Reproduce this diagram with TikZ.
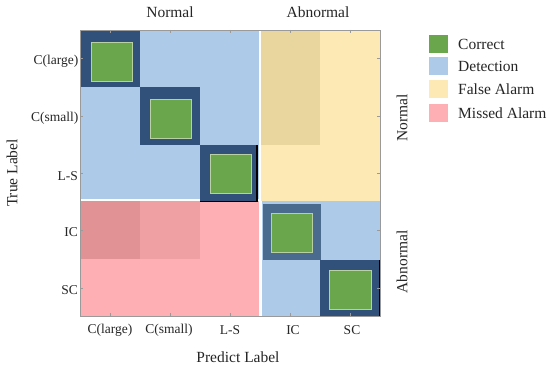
\documentclass[tikz,border=0pt]{standalone}
\usepackage{fontspec}
\setmainfont{Liberation Serif}
\definecolor{cblue}{HTML}{ADCBE9}
\definecolor{cyel}{HTML}{FDE9B3}
\definecolor{cyeld}{HTML}{E9D69E}
\definecolor{cpink}{HTML}{FDAFB3}
\definecolor{cpinkd}{HTML}{E09294}
\definecolor{cpinkm}{HTML}{EEA0A2}
\definecolor{cnavy}{HTML}{31517A}
\definecolor{cnavyl}{HTML}{4B6B8E}
\definecolor{cgreen}{HTML}{6AA74C}
\definecolor{cgedge}{HTML}{B8D0A2}
\definecolor{cframe}{HTML}{9A9A9A}
\begin{document}
\begin{tikzpicture}[x=1pt,y=-1pt,
  ticklab/.style={font=\fontsize{13.5}{15}\selectfont, text=black!85, inner sep=1pt},
  titlelab/.style={font=\fontsize{15.5}{17}\selectfont, text=black!85, inner sep=1pt},
  legtext/.style={font=\fontsize{15.5}{17}\selectfont, text=black!85, anchor=west, inner sep=0pt},
  legbox/.style={minimum width=19pt, minimum height=18pt, inner sep=0pt, draw=none},
  greensq/.style={fill=cgreen, draw=cgedge, line width=0.9pt},
  tickmark/.style={draw=cframe, line width=0.6pt}]
\useasboundingbox (0,0) rectangle (550,369);
\fill[white] (0,0) rectangle (550,369);
% blocks
\fill[cblue] (80,30) rectangle (260,201);
\fill[cblue] (260,201) rectangle (380,316);
\fill[cyel] (260,30) rectangle (380,201);
\fill[cyeld] (260,30) rectangle (320,145);
\fill[cpink] (80,201) rectangle (261,316);
\fill[cpinkd] (80,201) rectangle (140,259);
\fill[cpinkm] (140,201) rectangle (200,259);
% separators
\draw[white, line width=2pt] (259.5,30) -- (259.5,316);
\draw[white, line width=1.8pt] (80,200) -- (260,200);
\draw[white, line width=1.6pt] (261,201) -- (261,316);
% diagonal cells
\fill[cnavy] (80,30) rectangle (140,87);
\fill[cnavy] (140,87) rectangle (200,145);
\fill[cnavy] (200,145) rectangle (258,201);
\draw[black, line width=1.4pt] (257,145) -- (257,201.5) -- (200,201.5);
\fill[cnavyl] (263,204) rectangle (321,260);
\fill[cnavy] (320,260) rectangle (380,316);
\draw[black, line width=1.8pt] (380,260) -- (380,316.5) -- (320,316.5);
\draw[greensq] (91,42) rectangle (132,81);
\draw[greensq] (150,99) rectangle (191,138);
\draw[greensq] (210,154) rectangle (251,193);
\draw[greensq] (271,213) rectangle (312,252);
\draw[greensq] (329,270) rectangle (371,309);
% frame and ticks
\draw[cframe, line width=0.8pt] (80,30) rectangle (380,316);
\foreach \x in {110,170,230,290,350} {
  \draw[tickmark] (\x,30) -- (\x,33);
  \draw[tickmark] (\x,316) -- (\x,313);
}
\foreach \y in {58,116,173,230,288} {
  \draw[tickmark] (80,\y) -- (83,\y);
  \draw[tickmark] (380,\y) -- (377,\y);
}
% row labels
\node[ticklab, anchor=east] (r1) at (79.5,61) {C(large)};
\node[ticklab, anchor=east] (r2) at (79.5,118) {C(small)};
\node[ticklab, anchor=east] (r3) at (79,176) {L-S};
\node[ticklab, anchor=east] (r4) at (79,232) {IC};
\node[ticklab, anchor=east] (r5) at (79,290) {SC};
% column labels
\node[ticklab] (c1) at (110,330) {C(large)};
\node[ticklab] (c2) at (169,330) {C(small)};
\node[ticklab] (c3) at (230,330) {L-S};
\node[ticklab] (c4) at (293,330) {IC};
\node[ticklab] (c5) at (352,330) {SC};
% titles
\node[titlelab] (xt) at (238,357) {Predict Label};
\node[titlelab, rotate=90] (yt) at (12,173) {True Label};
\node[titlelab] (tn) at (170,12) {Normal};
\node[titlelab] (ta) at (318,12) {Abnormal};
\node[titlelab, rotate=90] (rn) at (402,118) {Normal};
\node[titlelab, rotate=90] (ra) at (402,262) {Abnormal};
% legend
\node[legbox, fill=cgreen] (l1) at (438.5,44) {};
\node[legbox, fill=cblue] (l2) at (438.5,66) {};
\node[legbox, fill=cyel] (l3) at (438.5,89) {};
\node[legbox, fill=cpink] (l4) at (438.5,113) {};
\node[legtext] (t1) at (458,44) {Correct};
\node[legtext] (t2) at (458,66) {Detection};
\node[legtext] (t3) at (458,89) {False Alarm};
\node[legtext] (t4) at (458,113) {Missed Alarm};
\end{tikzpicture}
\end{document}
